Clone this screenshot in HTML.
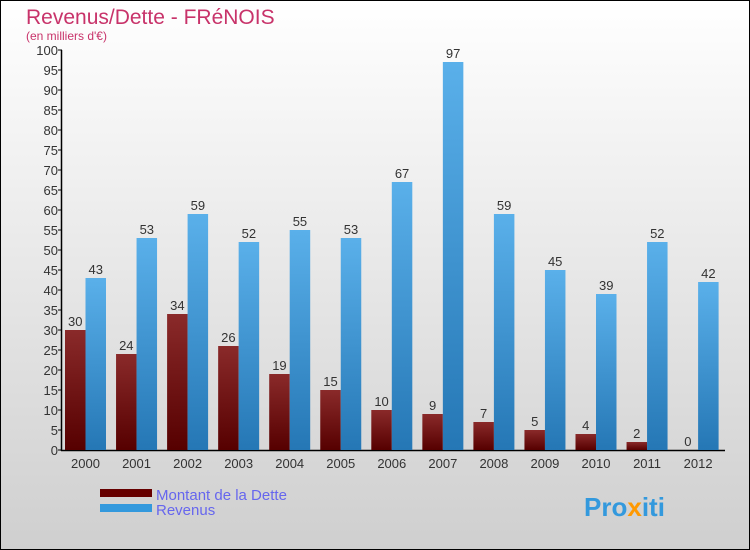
<!DOCTYPE html>
<html><head><meta charset="utf-8"><style>
body{margin:0;}
#c{width:748px;height:548px;border:1px solid #000;background:linear-gradient(#ffffff,#cfcfcf);position:relative;font-family:"Liberation Sans",sans-serif;overflow:hidden}
</style></head><body>
<div id="c">
<svg width="748" height="548" xmlns="http://www.w3.org/2000/svg" id="svg">
<defs>
<linearGradient id="gd" x1="0" y1="0" x2="0" y2="1"><stop offset="0" stop-color="#8a2a2a"/><stop offset="1" stop-color="#560000"/></linearGradient>
<linearGradient id="gr" x1="0" y1="0" x2="0" y2="1"><stop offset="0" stop-color="#5ab0ea"/><stop offset="1" stop-color="#2577b5"/></linearGradient>
</defs>
<text x="25" y="23" font-size="21" fill="#c8336a">Revenus/Dette - FRéNOIS</text>
<text x="25" y="39" font-size="12" fill="#c8336a">(en milliers d'€)</text>
<g id="axes"></g>
<g id="bars"></g>
<rect x="99" y="488" width="52" height="8" fill="#660000"/>
<text x="155" y="499" font-size="15" fill="#6666ee">Montant de la Dette</text>
<rect x="99" y="503" width="52" height="8" fill="#3399dd"/>
<text x="155" y="514" font-size="15" fill="#6666ee">Revenus</text>
<text x="583" y="515" font-size="26" font-weight="bold" fill="#3399dd">Pro<tspan fill="#ff9900">x</tspan>iti</text>
</svg>
</div>
<script>
const years=["2000","2001","2002","2003","2004","2005","2006","2007","2008","2009","2010","2011","2012"];
const dette=[30,24,34,26,19,15,10,9,7,5,4,2,0];
const revenus=[43,53,59,52,55,53,67,97,59,45,39,52,42];
const yTicks=[0,5,10,15,20,25,30,35,40,45,50,55,60,65,70,75,80,85,90,95,100];
const NS="http://www.w3.org/2000/svg";
const y0=449,yk=4,x0=64,pitch=51.05,bw=20.5;
function Y(v){return y0-v*yk;}
function X(i){return x0+i*pitch;}
function mk(t,a,p){const e=document.createElementNS(NS,t);for(const k in a)e.setAttribute(k,a[k]);p.appendChild(e);return e;}
const ax=document.getElementById('axes'),bg=document.getElementById('bars');
yTicks.forEach(v=>{
 const l=mk('line',{x1:57,x2:61,y1:Y(v),y2:Y(v),stroke:'#000'},ax);
 
 
 const t=mk('text',{x:57,y:Y(v)+5,'font-size':13,fill:'#333','text-anchor':'end'},ax);
 t.textContent=v;
 
 
});
const ya=mk('line',{x1:60.5,x2:60.5,y1:Y(100),y2:y0+1,stroke:'#000','stroke-width':1.5},ax);


const xa=mk('line',{x1:60,x2:724,y1:y0+0.5,y2:y0+0.5,stroke:'#000','stroke-width':1.5},ax);


years.forEach((yr,i)=>{
 const x=X(i);
 const t=mk('text',{x:x+bw,y:467,'font-size':13,fill:'#333','text-anchor':'middle'},ax);
 t.textContent=yr;
 
 
 const d=mk('rect',{x:x,y:Y(dette[i]),width:bw,height:dette[i]*yk,fill:'url(#gd)'},bg);
 
 
 const r=mk('rect',{x:x+bw,y:Y(revenus[i]),width:bw,height:revenus[i]*yk,fill:'url(#gr)'},bg);
 
 
 const dl=mk('text',{x:x+bw/2,y:Y(dette[i])-4,'font-size':13,fill:'#333','text-anchor':'middle'},bg);
 dl.textContent=dette[i];
 
 
 const rl=mk('text',{x:x+bw*1.5,y:Y(revenus[i])-4,'font-size':13,fill:'#333','text-anchor':'middle'},bg);
 rl.textContent=revenus[i];
 
 
});
</script>
</body></html>
